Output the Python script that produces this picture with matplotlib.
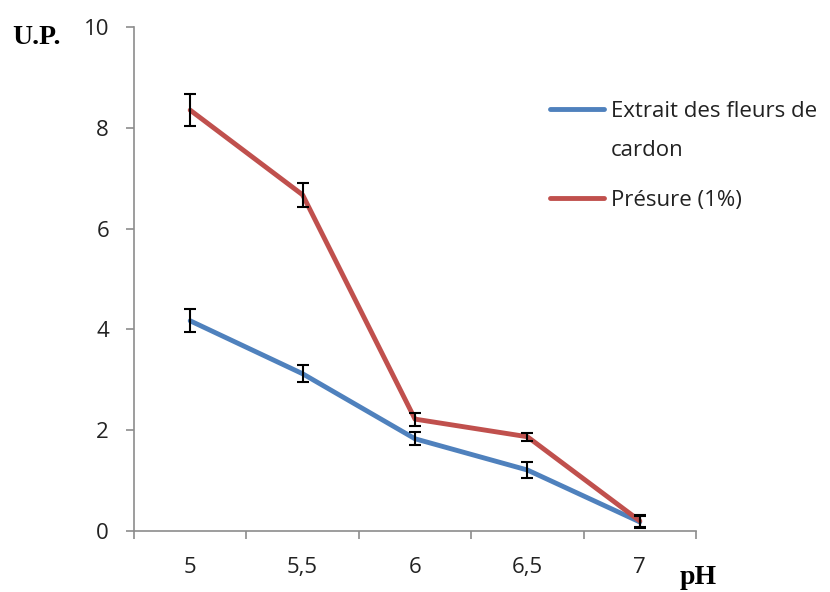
import matplotlib
matplotlib.use("Agg")
import matplotlib.pyplot as plt
import numpy as np

categories = ["5", "5,5", "6", "6,5", "7"]
cardon = [4.17, 3.12, 1.83, 1.21, 0.18]
cardon_err = [0.23, 0.17, 0.13, 0.15, 0.12]
presure = [8.35, 6.67, 2.22, 1.87, 0.20]
presure_err = [0.32, 0.24, 0.13, 0.08, 0.12]
yticks = [0, 2, 4, 6, 8, 10]

blue = "#4F81BD"
red = "#C0504D"
gray = "#8C8C8C"

fig = plt.figure(figsize=(8.3, 5.92), dpi=100)
ax = fig.add_axes([134/830, 1-531/592, (696-134)/830, (531-27)/592])

x = np.arange(len(categories))
l1, = ax.plot(x, cardon, color=blue, lw=3.5, solid_capstyle="round", zorder=2,
              label="Extrait des fleurs de")
l2, = ax.plot(x, presure, color=red, lw=3.5, solid_capstyle="round", zorder=2,
              label="Présure (1%)")
ax.errorbar(x, cardon, yerr=cardon_err, fmt="none", ecolor="black", elinewidth=1.5,
            capsize=4.5, capthick=1.5, zorder=3)
ax.errorbar(x, presure, yerr=presure_err, fmt="none", ecolor="black", elinewidth=1.5,
            capsize=4.5, capthick=1.5, zorder=3)

ax.set_xlim(-0.5, len(categories) - 0.5)
ax.set_ylim(0, 10)
ax.set_yticks(yticks)
ax.set_yticklabels([str(v) for v in yticks])
ax.set_xticks(x)
ax.set_xticklabels(categories)
ax.set_xticks(np.arange(-0.5, len(categories), 1.0), minor=True)

for s in ["top", "right"]:
    ax.spines[s].set_visible(False)
for s in ["left", "bottom"]:
    ax.spines[s].set_color(gray)
    ax.spines[s].set_linewidth(1.2)

fam = ["Open Sans", "DejaVu Sans"]
for lab in ax.get_xticklabels() + ax.get_yticklabels():
    lab.set_fontfamily(fam)
    lab.set_fontsize(16)
    lab.set_color("#222222")
ax.tick_params(axis="y", direction="out", length=6, width=1.2, color=gray, pad=12)
ax.tick_params(axis="x", which="major", length=0, pad=19)
ax.tick_params(axis="x", which="minor", direction="out", length=6, width=1.2, color=gray)

fig.text(12/830, 1-38/592, "U.P.", fontfamily="Liberation Serif", fontweight="bold",
         fontsize=20, va="center", ha="left")
fig.text(680/830, 1-578/592, "pH", fontfamily="Liberation Serif", fontweight="bold",
         fontsize=20, va="center", ha="left")

leg = ax.legend(handles=[l1, l2], loc="upper left",
                bbox_to_anchor=(550/830, 1-101/592), bbox_transform=fig.transFigure,
                frameon=False, prop={"family": fam, "size": 16},
                handlelength=2.45, handletextpad=0.3, labelspacing=3.05,
                borderpad=0, borderaxespad=0)
for t in leg.get_texts():
    t.set_color("#222222")
ax.annotate("cardon", xy=(0, 0), xycoords=leg.get_texts()[0],
            xytext=(0, -13), textcoords="offset points", ha="left", va="top",
            fontfamily=fam, fontsize=16, color="#222222",
            annotation_clip=False, zorder=10)

fig.savefig("out.png", dpi=100)
